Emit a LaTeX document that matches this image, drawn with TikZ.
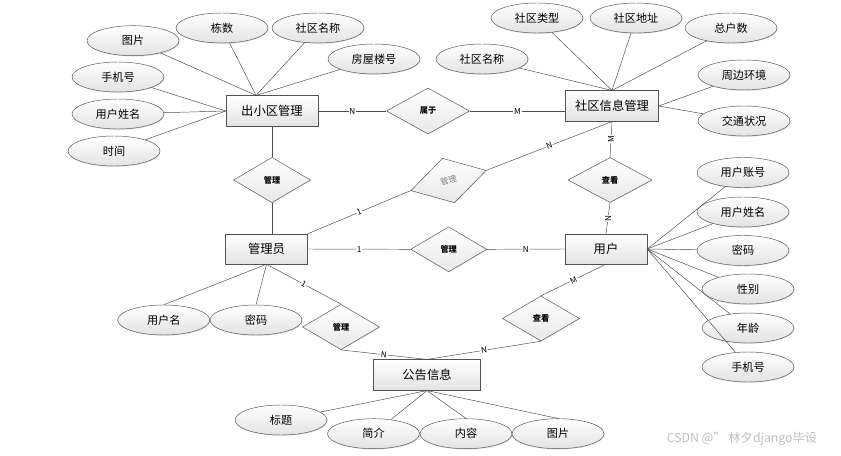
\documentclass[tikz,border=0pt]{standalone}
\usepackage{fontspec}
\setmainfont{Noto Sans CJK SC}
\usetikzlibrary{shapes,shadows}
\tikzstyle{line} = [thin, -, draw=gray!60!black]
\tikzstyle{entity} = [rectangle, draw=gray!65!black, top color=white, bottom color=gray!22, minimum width=2.76cm, minimum height=0.92cm, font=\fontsize{10.5}{12}\selectfont, drop shadow={opacity=0.35, shadow xshift=0.8pt, shadow yshift=-0.8pt}]
\tikzstyle{attr} = [ellipse, draw=gray!65!black, top color=white, bottom color=gray!22, minimum width=2.76cm, minimum height=0.9cm, font=\fontsize{9.5}{11}\selectfont, drop shadow={opacity=0.25, shadow xshift=0.5pt, shadow yshift=-0.7pt}]
\tikzstyle{rel} = [diamond, draw=gray!65!black, top color=white, bottom color=gray!18, minimum width=2.31cm, minimum height=1.36cm, inner sep=0pt, font=\fontsize{7}{8}\selectfont\bfseries, drop shadow={opacity=0.2, shadow xshift=0.5pt, shadow yshift=-0.6pt}]
\tikzstyle{card} = [fill=white, inner sep=0.6pt, font=\fontsize{7}{8}\selectfont]

\begin{document}
\begin{tikzpicture}[x=0.03cm, y=-0.03cm]
        \useasboundingbox (0,0) rectangle (841,456);

        % Entities
        \node[entity] (xq) at (272,111) {出小区管理};
        \node[entity, minimum width=2.79cm] (sq) at (612,106) {社区信息管理};
        \node[entity, minimum width=2.46cm, minimum height=0.9cm] (gl) at (266.5,249) {管理员};
        \node[entity, minimum width=2.46cm, minimum height=0.9cm] (ur) at (606,249) {用户};
        \node[entity, minimum width=3.21cm] (gg) at (427,375) {公告信息};

        % Relations
        \node[rel] (d1) at (272,180) {管理};
        \node[rel, minimum width=2.49cm, minimum height=1.38cm] (d2) at (428,111) {属于};
        \node[rel, rotate=15, minimum width=2.34cm, minimum height=1.38cm, font=\fontsize{7}{8}\selectfont, text=gray] (d3) at (448.5,180.5) {管理};
        \node[rel, minimum width=2.52cm, minimum height=1.35cm] (d4) at (610,180) {查看};
        \node[rel, minimum width=2.28cm, minimum height=1.35cm] (d7) at (448.7,249.3) {管理};
        \node[rel] (d5) at (341,327) {管理};
        \node[rel, minimum height=1.35cm] (d6) at (541,318.5) {查看};

        % Attributes of 出小区管理
        \node[attr] (a1) at (133,40.7) {图片};
        \node[attr] (a2) at (222,28) {栋数};
        \node[attr] (a3) at (318,28) {社区名称};
        \node[attr] (a4) at (374,59) {房屋楼号};
        \node[attr] (a5) at (118,77) {手机号};
        \node[attr] (a6) at (118,114) {用户姓名};
        \node[attr] (a7) at (114,151) {时间};

        % Attributes of 社区信息管理
        \node[attr] (b1) at (537,18) {社区类型};
        \node[attr] (b2) at (636,18) {社区地址};
        \node[attr] (b3) at (731,28) {总户数};
        \node[attr] (b4) at (482,59) {社区名称};
        \node[attr] (b5) at (744,75) {周边环境};
        \node[attr] (b6) at (744,121) {交通状况};

        % Attributes of 用户
        \node[attr] (c1) at (743,172.5) {用户账号};
        \node[attr] (c2) at (743,212) {用户姓名};
        \node[attr] (c3) at (743,250.5) {密码};
        \node[attr] (c4) at (748,289) {性别};
        \node[attr] (c5) at (748,328) {年龄};
        \node[attr] (c6) at (748,367) {手机号};

        % Attributes of 管理员 and 公告信息
        \node[attr] (e1) at (163.7,320) {用户名};
        \node[attr] (e2) at (256,320) {密码};
        \node[attr] (f1) at (281,420) {标题};
        \node[attr] (f2) at (373.5,433.7) {简介};
        \node[attr] (f3) at (466,433.7) {内容};
        \node[attr] (f4) at (558,433.7) {图片};

        \node[text=gray!50, font=\fontsize{10.5}{12}\selectfont] (wm) at (742,439) {CSDN @” 林夕django毕设};

        % Draw Lines
        \coordinate (xqt) at ([xshift=-0.48cm]xq.north);
        \foreach \a in {a1,a2,a3,a4} \draw[line] (\a) -- (xqt);
        \foreach \a in {a5,a6,a7} \draw[line] (\a) -- (xq.west);
        \foreach \b in {b1,b2,b3,b4} \draw[line] (\b) -- (sq.north);
        \foreach \b in {b5,b6} \draw[line] (\b) -- (sq.east);
        \foreach \c in {c1,c2,c3,c4,c5,c6} \draw[line] (\c) -- (ur.east);
        \draw[line] (e1.north) -- (gl.south);
        \draw[line] (e2.north) -- (gl.south);
        \draw[line] (f1) -- (gg.south);
        \draw[line] (f2) -- (gg.south);
        \draw[line] (f3.north) -- (gg.south);
        \draw[line] (f4.north) -- (gg.south);

        \draw[line] (xq.south) -- (d1.north);
        \draw[line] (d1.south) -- (d1.south |- gl.north);
        \draw[line] (xq.east) -- (d2.west) node[card, midway] {N};
        \draw[line] (d2.east) -- (d2.east -| sq.west) node[card, midway] {M};
        \draw[line] (gl.north east) -- (d3.west) node[card, midway, sloped] {1};
        \draw[line] (d3.east) -- (sq.south) node[card, midway, sloped] {N};
        \draw[line] (d4.north) -- (sq.south) node[card, midway, rotate=90] {M};
        \draw[line] (ur.north) -- (d4.south) node[card, midway, rotate=90] {N};
        \draw[line] (gl.east) -- (d7.west) node[card, midway] {1};
        \draw[line] (d7.east) -- (ur.west) node[card, midway] {N};
        \draw[line] (gl.south) -- (d5.north) node[card, midway, sloped] {1};
        \draw[line] (d5.south) -- (gg.north) node[card, midway, sloped] {N};
        \draw[line] (ur.south) -- (d6.north) node[card, midway, sloped] {M};
        \draw[line] (d6.south) -- (gg.north) node[card, midway, sloped] {N};

\end{tikzpicture}
\end{document}
